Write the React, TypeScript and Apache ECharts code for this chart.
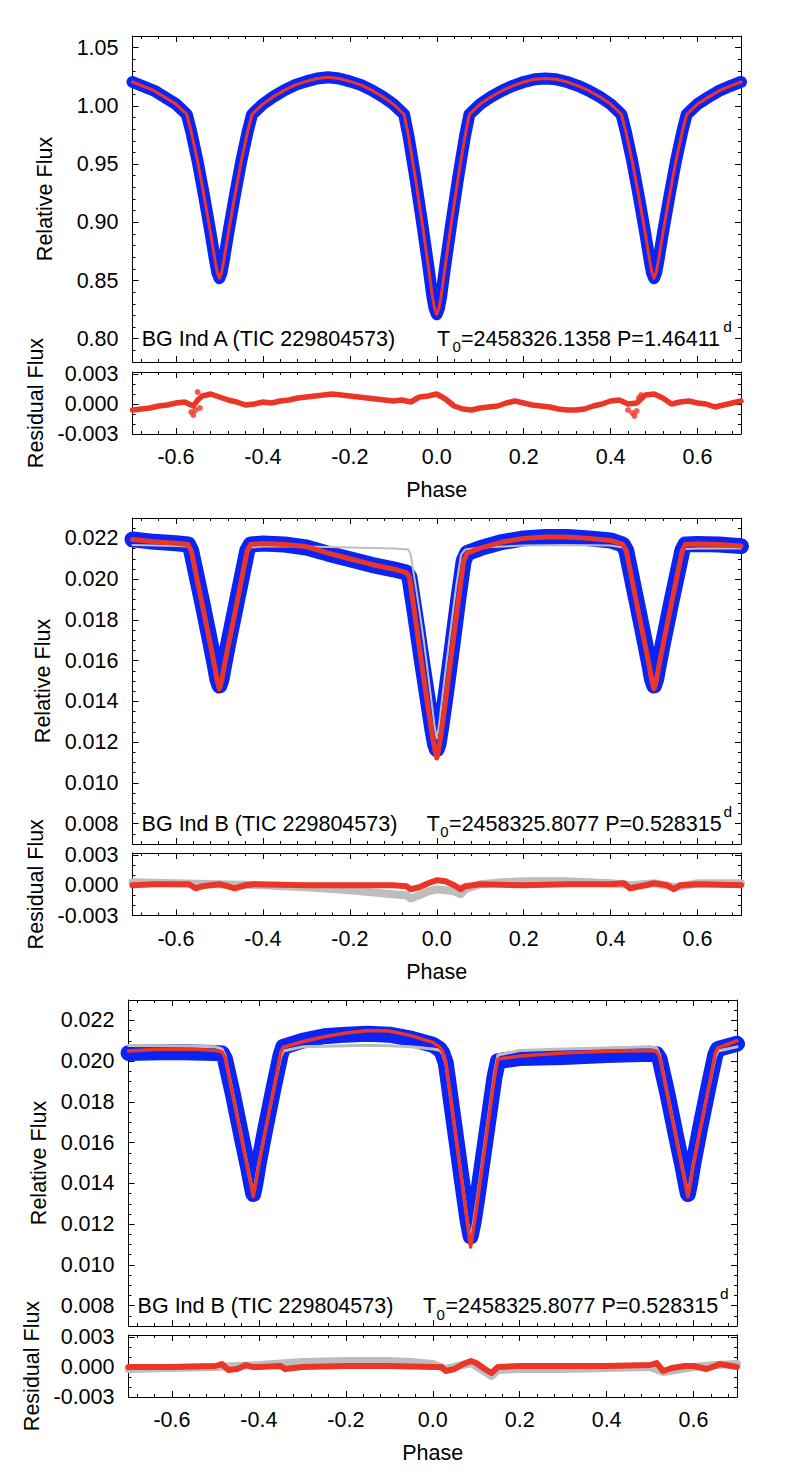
import React, { useEffect, useRef } from "react";
import * as echarts from "echarts";

const FONT = '"Liberation Sans", Arial, Helvetica, sans-serif';
const FS = 21.5;
const BLUE = "#0a24f5";
const RED = "#eb3527";
const GRAY = "#bdbdbd";

// ---------- axes ----------
const phaseTicks = [-0.6, -0.4, -0.2, 0.0, 0.2, 0.4, 0.6];
const p1FluxTicks = [0.8, 0.85, 0.9, 0.95, 1.0, 1.05];
const p23FluxTicks = [0.008, 0.01, 0.012, 0.014, 0.016, 0.018, 0.02, 0.022];
const residTicks = [-0.003, 0.0, 0.003];

// ---------- panel 1: BG Ind A ----------
const p1Flux: number[][] = [
  [-0.7, 1.0205], [-0.65, 1.013], [-0.6, 1.0015], [-0.58, 0.9945], [-0.575, 0.9925],
  [-0.565, 0.978], [-0.55, 0.952], [-0.535, 0.922], [-0.52, 0.89], [-0.51, 0.867],
  [-0.505, 0.857], [-0.5, 0.852], [-0.495, 0.857], [-0.49, 0.867], [-0.48, 0.89],
  [-0.465, 0.922], [-0.45, 0.952], [-0.435, 0.978], [-0.425, 0.9925], [-0.42, 0.9945],
  [-0.4, 1.0015], [-0.375, 1.008], [-0.35, 1.0135], [-0.325, 1.018], [-0.3, 1.021],
  [-0.275, 1.0235], [-0.25, 1.0245], [-0.225, 1.0235], [-0.2, 1.021], [-0.175, 1.018],
  [-0.15, 1.0135], [-0.125, 1.008], [-0.1, 1.0015], [-0.08, 0.9945], [-0.075, 0.9925],
  [-0.065, 0.974], [-0.05, 0.94], [-0.035, 0.903], [-0.02, 0.864], [-0.01, 0.836],
  [-0.005, 0.826], [0.0, 0.821], [0.005, 0.826], [0.01, 0.836], [0.02, 0.864],
  [0.035, 0.903], [0.05, 0.94], [0.065, 0.974], [0.075, 0.9925], [0.08, 0.9945],
  [0.1, 1.0015], [0.125, 1.0078], [0.15, 1.013], [0.175, 1.0172], [0.2, 1.0205],
  [0.225, 1.0228], [0.25, 1.0235], [0.275, 1.0228], [0.3, 1.0205], [0.325, 1.0172],
  [0.35, 1.013], [0.375, 1.0078], [0.4, 1.0015], [0.42, 0.9945], [0.425, 0.9925],
  [0.435, 0.978], [0.45, 0.952], [0.465, 0.922], [0.48, 0.89], [0.49, 0.867],
  [0.495, 0.857], [0.5, 0.852], [0.505, 0.857], [0.51, 0.867], [0.52, 0.89],
  [0.535, 0.922], [0.55, 0.952], [0.565, 0.978], [0.575, 0.9925], [0.58, 0.9945],
  [0.6, 1.0015], [0.625, 1.0075], [0.65, 1.013], [0.675, 1.017], [0.7, 1.0205],
];
const p1Resid: number[][] = [
  [-0.7, -0.0006], [-0.68, -0.0005], [-0.66, -0.0004], [-0.64, -0.0002], [-0.62, -0.0001],
  [-0.6, 0.0001], [-0.58, 0.0002], [-0.57, 0.0], [-0.56, -0.0002], [-0.55, 0.0004],
  [-0.54, 0.0008], [-0.52, 0.001], [-0.5, 0.0007], [-0.48, 0.0004], [-0.46, 0.0002],
  [-0.44, -0.0001], [-0.42, 0.0], [-0.4, 0.0002], [-0.38, 0.0001], [-0.36, 0.0003],
  [-0.34, 0.0004], [-0.32, 0.0006], [-0.3, 0.0007], [-0.28, 0.0008], [-0.26, 0.0009],
  [-0.24, 0.001], [-0.22, 0.0009], [-0.2, 0.0008], [-0.18, 0.0007], [-0.16, 0.0006],
  [-0.14, 0.0005], [-0.12, 0.0004], [-0.1, 0.0003], [-0.08, 0.0004], [-0.06, 0.0002],
  [-0.04, 0.0007], [-0.02, 0.0008], [0.0, 0.001], [0.02, 0.0005], [0.04, -0.0002],
  [0.06, -0.0005], [0.08, -0.0006], [0.1, -0.0004], [0.12, -0.0003], [0.14, -0.0002],
  [0.16, 0.0001], [0.18, 0.0003], [0.2, 0.0001], [0.22, -0.0001], [0.24, -0.0002],
  [0.26, -0.0003], [0.28, -0.0005], [0.3, -0.0006], [0.32, -0.0006], [0.34, -0.0005],
  [0.36, -0.0002], [0.38, 0.0], [0.4, 0.0003], [0.42, 0.0004], [0.44, 0.0],
  [0.46, 0.0001], [0.48, 0.0009], [0.5, 0.001], [0.52, 0.0006], [0.54, 0.0],
  [0.56, 0.0002], [0.58, 0.0003], [0.6, 0.0001], [0.62, 0.0], [0.64, -0.0003],
  [0.66, -0.0001], [0.68, 0.0001], [0.7, 0.0003],
];
const p1ResidOutliers: number[][] = [
  [-0.565, -0.0008], [-0.56, -0.0011], [-0.555, -0.0006], [-0.55, 0.0012], [-0.545, -0.0004],
  [0.44, -0.0006], [0.45, -0.0009], [0.455, -0.0012], [0.46, -0.0007], [0.465, 0.0006], [0.47, 0.0009],
];

// ---------- panel 2: BG Ind B (first) ----------
const p2Blue: number[][] = [
  [-0.7, 0.02195], [-0.65, 0.02183], [-0.6, 0.02176], [-0.572, 0.0217], [-0.565, 0.0214],
  [-0.54, 0.0189], [-0.52, 0.0168], [-0.51, 0.0157], [-0.505, 0.0151], [-0.5, 0.01478],
  [-0.495, 0.0151], [-0.49, 0.0157], [-0.48, 0.0168], [-0.46, 0.0189], [-0.436, 0.0214],
  [-0.428, 0.0217], [-0.4, 0.02175], [-0.35, 0.0217], [-0.3, 0.02155], [-0.25, 0.02125],
  [-0.2, 0.02098], [-0.15, 0.0207], [-0.1, 0.02048], [-0.07, 0.02032], [-0.063, 0.0201],
  [-0.05, 0.0183], [-0.035, 0.0161], [-0.02, 0.014], [-0.01, 0.0126], [-0.004, 0.0119],
  [0.0, 0.01165], [0.004, 0.0119], [0.01, 0.0127], [0.02, 0.0142], [0.035, 0.0166],
  [0.05, 0.0191], [0.062, 0.0209], [0.07, 0.02128], [0.1, 0.02152], [0.15, 0.02182],
  [0.2, 0.022], [0.25, 0.02207], [0.3, 0.02207], [0.35, 0.022], [0.4, 0.0219],
  [0.428, 0.0217], [0.436, 0.0214], [0.46, 0.0189], [0.48, 0.0168], [0.49, 0.0157],
  [0.495, 0.0151], [0.5, 0.01478], [0.505, 0.0151], [0.51, 0.0157], [0.52, 0.0168],
  [0.54, 0.0189], [0.565, 0.0214], [0.572, 0.0217], [0.6, 0.02172], [0.65, 0.0217],
  [0.7, 0.02162],
];
const p2Red: number[][] = [
  [-0.7, 0.02195], [-0.65, 0.02183], [-0.6, 0.02176], [-0.572, 0.0217], [-0.565, 0.0214],
  [-0.54, 0.0188], [-0.52, 0.0167], [-0.51, 0.0156], [-0.505, 0.015], [-0.5, 0.01462],
  [-0.495, 0.015], [-0.49, 0.0156], [-0.48, 0.0167], [-0.46, 0.0188], [-0.436, 0.0214],
  [-0.428, 0.0217], [-0.4, 0.02175], [-0.35, 0.0217], [-0.3, 0.0216], [-0.25, 0.02128],
  [-0.2, 0.021], [-0.15, 0.02072], [-0.1, 0.0205], [-0.07, 0.02032], [-0.063, 0.0201],
  [-0.05, 0.0182], [-0.035, 0.0159], [-0.02, 0.0137], [-0.01, 0.0123], [-0.004, 0.0116],
  [0.0, 0.01122], [0.004, 0.0116], [0.01, 0.0124], [0.02, 0.014], [0.035, 0.0165],
  [0.05, 0.019], [0.062, 0.0209], [0.07, 0.02128], [0.1, 0.02152], [0.15, 0.02182],
  [0.2, 0.022], [0.25, 0.02207], [0.3, 0.02207], [0.35, 0.022], [0.4, 0.0219],
  [0.428, 0.0217], [0.436, 0.0214], [0.46, 0.0188], [0.48, 0.0167], [0.49, 0.0156],
  [0.495, 0.015], [0.5, 0.01462], [0.505, 0.015], [0.51, 0.0156], [0.52, 0.0167],
  [0.54, 0.0188], [0.565, 0.0214], [0.572, 0.0217], [0.6, 0.02172], [0.65, 0.0217],
  [0.7, 0.02162],
];
const p2Gray: number[][] = [
  [-0.7, 0.02168], [-0.6, 0.02162], [-0.572, 0.0216], [-0.565, 0.0213], [-0.54, 0.0188],
  [-0.52, 0.0168], [-0.51, 0.0158], [-0.5, 0.0148], [-0.49, 0.0158], [-0.48, 0.0168],
  [-0.46, 0.0188], [-0.436, 0.0213], [-0.428, 0.02155], [-0.4, 0.0216], [-0.3, 0.0216],
  [-0.2, 0.02155], [-0.1, 0.0215], [-0.065, 0.02145], [-0.06, 0.0212], [-0.045, 0.0192],
  [-0.03, 0.017], [-0.015, 0.0145], [-0.005, 0.0128], [0.0, 0.01218], [0.005, 0.0128],
  [0.015, 0.0146], [0.03, 0.0172], [0.045, 0.0197], [0.056, 0.0212], [0.065, 0.02145],
  [0.1, 0.02155], [0.2, 0.02165], [0.3, 0.02168], [0.4, 0.02165], [0.428, 0.02155],
  [0.436, 0.0213], [0.46, 0.0188], [0.48, 0.0168], [0.49, 0.0158], [0.5, 0.0148],
  [0.51, 0.0158], [0.52, 0.0168], [0.54, 0.0188], [0.565, 0.0213], [0.572, 0.02148],
  [0.6, 0.0215], [0.7, 0.0215],
];
const p2ResidRed: number[][] = [
  [-0.7, 0.0], [-0.65, 0.0001], [-0.6, 0.0001], [-0.57, 0.0001], [-0.555, -0.0003],
  [-0.54, -0.0001], [-0.52, 0.0], [-0.5, 0.0001], [-0.48, -0.0001], [-0.465, -0.0003],
  [-0.44, 0.0], [-0.42, 0.0001], [-0.3, 0.0], [-0.2, 0.0], [-0.1, 0.0],
  [-0.07, -0.0001], [-0.06, -0.0004], [-0.04, -0.0002], [-0.02, 0.0002], [0.0, 0.0005],
  [0.02, 0.0004], [0.04, 0.0], [0.055, -0.0004], [0.065, -0.0001], [0.1, 0.0001],
  [0.2, 0.0], [0.3, 0.0001], [0.4, 0.0001], [0.43, 0.0002], [0.445, -0.0003],
  [0.48, 0.0], [0.5, 0.0002], [0.53, 0.0], [0.545, -0.0004], [0.56, 0.0],
  [0.6, 0.0001], [0.7, 0.0],
];
const p2ResidGray: number[][] = [
  [-0.7, 0.0003], [-0.6, 0.0002], [-0.5, 0.0001], [-0.4, 0.0], [-0.3, -0.0002],
  [-0.2, -0.0005], [-0.15, -0.0007], [-0.1, -0.0009], [-0.07, -0.001], [-0.06, -0.0013],
  [-0.04, -0.001], [-0.02, -0.0006], [0.0, -0.0004], [0.02, -0.0005], [0.04, -0.0006],
  [0.055, -0.0009], [0.065, -0.0004], [0.1, 0.0001], [0.15, 0.0003], [0.2, 0.0004],
  [0.3, 0.0004], [0.4, 0.0002], [0.45, 0.0], [0.5, 0.0002], [0.55, -0.0002],
  [0.6, 0.0002], [0.7, 0.0002],
];

// ---------- panel 3: BG Ind B (second) ----------
const p3Blue: number[][] = [
  [-0.7, 0.0204], [-0.6, 0.02045], [-0.5, 0.0204], [-0.485, 0.02038], [-0.478, 0.0201],
  [-0.46, 0.0184], [-0.44, 0.0163], [-0.425, 0.0148], [-0.418, 0.014], [-0.413, 0.01348],
  [-0.408, 0.014], [-0.401, 0.0149], [-0.386, 0.0166], [-0.366, 0.0187], [-0.35, 0.0203],
  [-0.344, 0.0207], [-0.3, 0.021], [-0.25, 0.02122], [-0.2, 0.0213], [-0.15, 0.02134],
  [-0.1, 0.0213], [-0.05, 0.0211], [0.0, 0.0208], [0.015, 0.0206], [0.022, 0.0204],
  [0.03, 0.0199], [0.05, 0.0168], [0.07, 0.0137], [0.08, 0.0122], [0.087, 0.0114],
  [0.094, 0.0121], [0.104, 0.0135], [0.124, 0.0165], [0.142, 0.0192], [0.15, 0.02],
  [0.2, 0.02015], [0.3, 0.0202], [0.4, 0.0203], [0.5, 0.02036], [0.515, 0.02034],
  [0.522, 0.0201], [0.54, 0.0184], [0.56, 0.0163], [0.575, 0.0148], [0.582, 0.014],
  [0.587, 0.01348], [0.592, 0.014], [0.599, 0.0149], [0.614, 0.0166], [0.634, 0.0187],
  [0.65, 0.0203], [0.656, 0.0206], [0.7, 0.02085],
];
const p3Red: number[][] = [
  [-0.7, 0.0205], [-0.65, 0.02056], [-0.6, 0.0206], [-0.55, 0.02058], [-0.5, 0.02052],
  [-0.485, 0.02045], [-0.478, 0.0202], [-0.46, 0.0183], [-0.44, 0.0162], [-0.425, 0.0146],
  [-0.418, 0.0139], [-0.413, 0.01334], [-0.408, 0.0139], [-0.401, 0.0148], [-0.386, 0.0165],
  [-0.366, 0.0186], [-0.35, 0.0204], [-0.344, 0.02068], [-0.3, 0.02095], [-0.25, 0.0212],
  [-0.2, 0.02138], [-0.15, 0.0215], [-0.1, 0.02148], [-0.05, 0.02125], [0.0, 0.02092],
  [0.015, 0.0207], [0.022, 0.0205], [0.03, 0.02], [0.05, 0.0168], [0.07, 0.0136],
  [0.08, 0.012], [0.087, 0.01088], [0.094, 0.0118], [0.104, 0.0133], [0.124, 0.0164],
  [0.142, 0.0192], [0.15, 0.0201], [0.2, 0.02025], [0.3, 0.0204], [0.4, 0.02048],
  [0.5, 0.02052], [0.515, 0.02048], [0.522, 0.0202], [0.54, 0.0183], [0.56, 0.0162],
  [0.575, 0.0146], [0.582, 0.0139], [0.587, 0.01334], [0.592, 0.0139], [0.599, 0.0148],
  [0.614, 0.0165], [0.634, 0.0186], [0.65, 0.0204], [0.656, 0.02065], [0.7, 0.021],
];
const p3Gray: number[][] = [
  [-0.7, 0.02077], [-0.6, 0.02075], [-0.5, 0.0207], [-0.485, 0.0206], [-0.478, 0.0203],
  [-0.46, 0.0184], [-0.44, 0.0163], [-0.425, 0.0147], [-0.418, 0.014], [-0.413, 0.0135],
  [-0.408, 0.014], [-0.401, 0.0149], [-0.386, 0.0165], [-0.366, 0.0186], [-0.35, 0.0202],
  [-0.344, 0.0205], [-0.3, 0.0207], [-0.2, 0.02075], [-0.15, 0.02078], [-0.1, 0.02075],
  [-0.05, 0.0207], [0.0, 0.0206], [0.015, 0.02055], [0.022, 0.0204], [0.03, 0.0199],
  [0.05, 0.0168], [0.07, 0.0137], [0.08, 0.0121], [0.087, 0.01126], [0.094, 0.0121],
  [0.104, 0.0135], [0.124, 0.0166], [0.142, 0.0194], [0.15, 0.0203], [0.2, 0.02052],
  [0.3, 0.0206], [0.4, 0.02065], [0.5, 0.0207], [0.515, 0.02065], [0.522, 0.0203],
  [0.54, 0.0184], [0.56, 0.0163], [0.575, 0.0147], [0.582, 0.014], [0.587, 0.0135],
  [0.592, 0.014], [0.599, 0.0149], [0.614, 0.0165], [0.634, 0.0186], [0.65, 0.0202],
  [0.656, 0.0205], [0.7, 0.0207],
];
const p3ResidRed: number[][] = [
  [-0.7, 0.0], [-0.6, 0.0], [-0.5, 0.0001], [-0.485, 0.0003], [-0.47, -0.0003],
  [-0.45, -0.0002], [-0.43, 0.0002], [-0.415, 0.0], [-0.4, 0.0], [-0.35, 0.0001],
  [-0.34, -0.0002], [-0.3, 0.0], [-0.2, 0.0001], [-0.1, 0.0001], [0.0, 0.0],
  [0.02, 0.0], [0.03, -0.0004], [0.05, -0.0002], [0.07, 0.0003], [0.088, 0.0006],
  [0.1, 0.0004], [0.12, -0.0002], [0.135, -0.0006], [0.15, 0.0], [0.2, 0.0001],
  [0.3, 0.0001], [0.4, 0.0001], [0.5, 0.0002], [0.515, 0.0004], [0.53, -0.0004],
  [0.55, -0.0001], [0.58, 0.0001], [0.6, 0.0001], [0.63, -0.0002], [0.65, 0.0001],
  [0.66, 0.0003], [0.7, 0.0],
];
const p3ResidGray: number[][] = [
  [-0.7, -0.0002], [-0.6, -0.0001], [-0.5, 0.0], [-0.4, 0.0002], [-0.3, 0.0005],
  [-0.2, 0.0006], [-0.1, 0.0006], [-0.05, 0.0005], [0.0, 0.0003], [0.03, -0.0002],
  [0.088, 0.0004], [0.135, -0.0009], [0.15, -0.0003], [0.2, -0.0002], [0.3, -0.0002],
  [0.4, -0.0001], [0.5, 0.0], [0.53, -0.0005], [0.6, 0.0], [0.65, 0.0002], [0.7, 0.0003],
];

// ---------- helpers ----------
function steps(min: number, max: number, step: number): number[] {
  const out: number[] = [];
  const n = Math.round((max - min) / step);
  for (let i = 0; i <= n; i++) out.push(Math.round((min + i * step) * 1e7) / 1e7);
  return out;
}

type Spec = { min: number; max: number; majors: number[]; minors: number[]; fmt: (v: number) => string };

const xSpec: Spec = { min: -0.7, max: 0.7, majors: phaseTicks, minors: steps(-0.68, 0.68, 0.04), fmt: (v) => v.toFixed(1) };
const p1YSpec: Spec = { min: 0.78, max: 1.06, majors: p1FluxTicks, minors: steps(0.78, 1.06, 0.01), fmt: (v) => v.toFixed(2) };
const p23YSpec: Spec = { min: 0.007, max: 0.023, majors: p23FluxTicks, minors: steps(0.007, 0.023, 0.0005), fmt: (v) => v.toFixed(3) };
const rYSpec: Spec = { min: -0.003, max: 0.0032, majors: residTicks, minors: steps(-0.003, 0.003, 0.001), fmt: (v) => v.toFixed(3) };

const txt = { fontSize: FS, fontFamily: FONT, color: "#000" };

function makeAxes(dim: "x" | "y", gridIndex: number, spec: Spec, showLabel: boolean, name?: string, nameGap?: number) {
  const positions = dim === "x" ? ["bottom", "top"] : ["left", "right"];
  const out: any[] = [];
  positions.forEach((p, i) => {
    const primary = i === 0;
    out.push({
      type: "value", gridIndex, position: p, min: spec.min, max: spec.max,
      axisLine: { show: true, onZero: false, lineStyle: { color: "#000", width: 1 } },
      axisTick: { show: true, inside: true, length: 6, customValues: spec.majors, lineStyle: { color: "#000", width: 1 } },
      axisLabel: {
        show: primary && showLabel, customValues: spec.majors, formatter: spec.fmt,
        margin: dim === "x" ? 12 : 14, ...txt,
      },
      splitLine: { show: false },
      name: primary ? name : undefined,
      nameLocation: "middle",
      nameGap: nameGap,
      nameRotate: dim === "y" ? 90 : 0,
      nameTextStyle: txt,
    });
    out.push({
      type: "value", gridIndex, position: p, min: spec.min, max: spec.max,
      axisLine: { show: false, onZero: false },
      axisTick: { show: true, inside: true, length: 3, customValues: spec.minors, lineStyle: { color: "#000", width: 1 } },
      axisLabel: { show: false },
      splitLine: { show: false },
    });
  });
  return out;
}

function line(g: number, data: number[][], color: string, width: number, z: number, clip = true) {
  return {
    type: "line", xAxisIndex: g * 4, yAxisIndex: g * 4, data, showSymbol: false, symbol: "none",
    clip, z, silent: true,
    lineStyle: { color, width, cap: "round", join: "round" },
  };
}

function t0Texts(x: number[], cy: number, main: string) {
  return [
    { type: "text", x: x[0], y: cy, style: { text: "T", fontSize: FS, fontFamily: FONT, fill: "#000", align: "left", verticalAlign: "middle" } },
    { type: "text", x: x[1], y: cy + 8, style: { text: "0", fontSize: 15, fontFamily: FONT, fill: "#000", align: "left", verticalAlign: "middle" } },
    { type: "text", x: x[2], y: cy, style: { text: main, fontSize: FS, fontFamily: FONT, fill: "#000", align: "left", verticalAlign: "middle" } },
    { type: "text", x: x[3], y: cy - 12.5, style: { text: "d", fontSize: 15.5, fontFamily: FONT, fill: "#000", align: "left", verticalAlign: "middle" } },
  ];
}

function label(x: number, y: number, text: string) {
  return { type: "text", x, y, style: { text, fontSize: FS, fontFamily: FONT, fill: "#000", align: "left", verticalAlign: "middle" } };
}

export default function App() {
  const ref = useRef<HTMLDivElement>(null);
  useEffect(() => {
    if (!ref.current) return;
    const chart = echarts.init(ref.current, undefined, { renderer: "svg" });
    const grids = [
      { left: 132.5, top: 36, width: 608.5, height: 326 },
      { left: 132.5, top: 372, width: 608.5, height: 62 },
      { left: 132.5, top: 518, width: 608.5, height: 326 },
      { left: 132.5, top: 853, width: 608.5, height: 62.5 },
      { left: 128.5, top: 1000, width: 608.5, height: 326 },
      { left: 128.5, top: 1335, width: 608.5, height: 62 },
    ];
    const xAxes: any[] = [];
    const yAxes: any[] = [];
    const ySpecs = [p1YSpec, rYSpec, p23YSpec, rYSpec, p23YSpec, rYSpec];
    grids.forEach((_, g) => {
      const resid = g % 2 === 1;
      xAxes.push(...makeAxes("x", g, xSpec, resid, resid ? "Phase" : undefined, 45));
      yAxes.push(...makeAxes("y", g, ySpecs[g], true, resid ? "Residual Flux" : "Relative Flux", 77));
    });

    const series: any[] = [
      // panel 1
      line(0, p1Flux, BLUE, 12, 1, false),
      line(0, p1Flux, RED, 3, 3),
      line(1, p1Resid, RED, 5.5, 3),
      {
        type: "scatter", xAxisIndex: 4, yAxisIndex: 4, data: p1ResidOutliers, symbolSize: 6,
        itemStyle: { color: RED }, z: 3, silent: true,
      },
      // panel 2
      line(2, p2Blue, BLUE, 16, 1, false),
      line(2, p2Gray, GRAY, 2, 2),
      line(2, p2Red, RED, 5, 3),
      line(3, p2ResidGray, GRAY, 8, 1),
      line(3, p2ResidRed, RED, 6, 3),
      // panel 3
      line(4, p3Blue, BLUE, 16, 1, false),
      line(4, p3Gray, GRAY, 3, 2),
      line(4, p3Red, RED, 3.5, 3),
      line(5, p3ResidGray, GRAY, 8, 1),
      line(5, p3ResidRed, RED, 6, 3),
    ];

    const graphic: any[] = [
      label(141.7, 338.5, "BG Ind A (TIC 229804573)"),
      ...t0Texts([437, 452.5, 461, 723.3], 338.5, "=2458326.1358 P=1.46411"),
      label(141.6, 823.5, "BG Ind B (TIC 229804573)"),
      ...t0Texts([426.7, 440.2, 449.1, 723.5], 823.5, "=2458325.8077 P=0.528315"),
      label(137.6, 1306, "BG Ind B (TIC 229804573)"),
      ...t0Texts([423, 436.5, 445.5, 720], 1306, "=2458325.8077 P=0.528315"),
    ];

    chart.setOption({
      animation: false,
      backgroundColor: "#fff",
      grid: grids,
      xAxis: xAxes,
      yAxis: yAxes,
      series,
      graphic,
    });
    return () => chart.dispose();
  }, []);
  return <div ref={ref} style={{ position: "absolute", left: 0, top: 0, width: 804, height: 1478 }} />;
}
